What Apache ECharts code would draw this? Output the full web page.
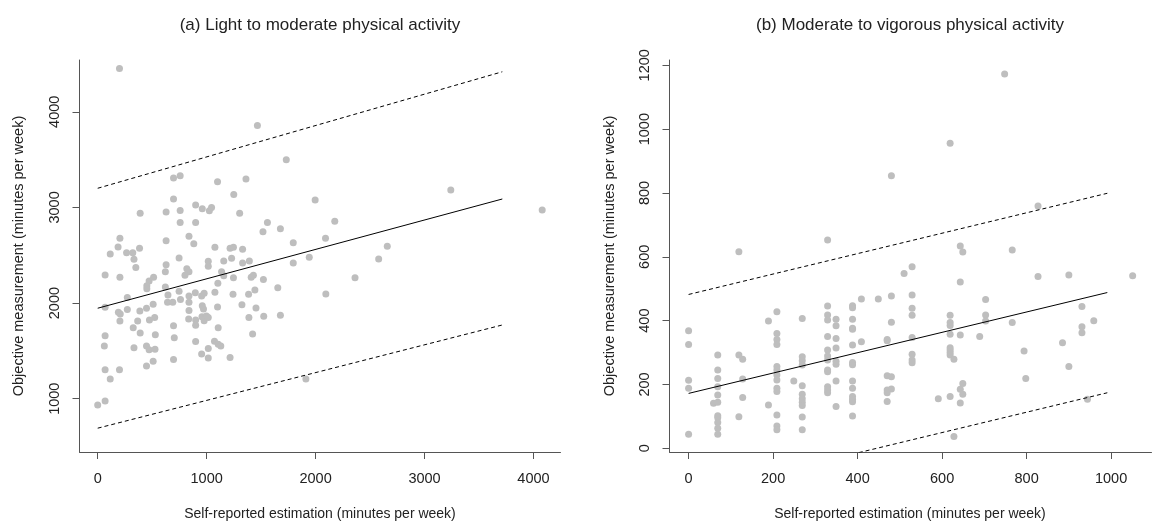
<!DOCTYPE html>
<html>
<head>
<meta charset="utf-8">
<script src="https://cdn.jsdelivr.net/npm/echarts@6/dist/echarts.min.js"></script>
<style>
html,body{margin:0;padding:0;background:#fff;}
#c{width:1153px;height:522px;}
</style>
</head>
<body>
<div id="c"></div>
<script>
// ---------- Data ----------
const titleA = '(a) Light to moderate physical activity';
const titleB = '(b) Moderate to vigorous physical activity';
const xName = 'Self-reported estimation (minutes per week)';
const yName = 'Objective measurement (minutes per week)';

const ticksAX = [0, 1000, 2000, 3000, 4000];
const ticksAY = [1000, 2000, 3000, 4000];
const ticksBX = [0, 200, 400, 600, 800, 1000];
const ticksBY = [0, 200, 400, 600, 800, 1000, 1200];

// Panel (a) points: self-reported (x), objective (y)
const lightX = [200,1466,1731,696,757,1100,1361,3241,1249,696,1996,4080,390,628,757,899,960,1025,1045,1303,
  757,899,1558,2176,1517,1677,838,628,882,1795,2091,204,187,115,265,322,333,384,350,1076,
  1215,1246,1330,747,2658,1229,1157,1015,1015,1392,1330,1942,2579,1795,628,68,204,818,838,801,
  621,1137,1157,1246,1409,1429,2362,513,472,451,451,1103,1521,1653,621,1443,1076,896,645,747,
  760,838,954,977,1242,1385,2094,272,641,689,838,509,1324,68,272,387,448,838,960,971,
  1100,1453,190,207,367,475,523,204,835,899,977,957,998,1015,899,1388,1524,1677,326,390,
  696,529,68,1106,1422,703,899,1072,1106,1130,61,333,448,472,526,954,1015,1015,1215,696,
  509,448,68,200,115,1911,0,68];
const lightY = [4453,3857,3498,3307,3331,3268,3296,3181,3135,3087,3077,2973,2940,2951,2967,3025,2986,2966,3000,2938,
  2843,2843,2843,2854,2746,2776,2699,2652,2621,2630,2678,2678,2586,2512,2527,2527,2457,2572,2373,2583,
  2572,2583,2562,2471,2593,2468,2440,2436,2384,2440,2419,2478,2461,2419,2401,2294,2269,2360,2328,2290,
  2328,2328,2286,2265,2269,2290,2265,2269,2231,2182,2149,2208,2247,2160,2167,2137,2112,2109,2085,2123,
  2036,2074,2074,2102,2091,2091,2095,2057,2008,2008,2008,1987,1983,1956,1933,1917,1945,1923,1971,1937,
  1959,1948,1903,1885,1813,1823,1848,1813,1834,1823,1816,1858,1865,1848,1767,1848,1862,1872,1743,1687,
  1764,1670,1659,1743,1677,1638,1597,1600,1569,1551,1551,1534,1551,1513,1517,1468,1524,1426,1430,1409,
  1391,1343,1304,1304,1207,1207,935,977];

// Panel (a) regression line and limits (endpoints)
const lightFitX = [0, 3714];
const lightFitY = [1946, 3088];
const lightUpperY = [3200, 4418];
const lightLowerY = [692, 1771];

// Panel (b) points
const vigX = [0,0,0,0,0,59,69,69,69,69,69,69,69,69,69,69,69,119,119,119,128,128,128,189,189,
  209,209,209,209,209,209,209,209,209,209,209,209,209,249,269,269,269,269,269,269,269,269,269,269,269,
  329,329,329,329,329,329,329,329,329,329,329,329,329,349,349,349,349,349,349,349,349,
  388,388,388,388,388,388,388,388,388,388,388,388,388,388,409,409,449,470,470,470,470,470,470,
  480,480,480,480,480,510,529,529,529,529,529,529,529,529,591,619,619,619,619,619,619,619,619,619,619,
  628,628,643,643,643,643,643,649,649,649,689,703,703,703,766,766,794,798,827,827,885,900,900,
  931,931,931,944,959,1051,748];
const vigY = [368,325,213,188,44,141,292,245,219,193,167,144,102,96,81,63,44,616,292,99,279,217,159,399,136,
  428,360,341,325,256,245,230,214,188,178,104,70,58,211,407,287,274,261,196,169,155,144,134,98,58,
  653,446,418,402,350,308,289,277,245,240,193,183,174,404,384,344,314,273,263,211,131,
  447,440,404,376,373,324,269,262,211,188,162,154,146,101,468,334,468,341,337,227,183,174,147,
  854,477,395,224,186,548,569,480,439,417,347,295,277,268,155,956,417,394,385,357,315,308,300,292,162,
  37,279,634,521,355,185,142,615,203,169,350,466,418,399,621,394,305,219,759,538,331,543,256,
  444,381,362,154,400,541,1173];

// Panel (b) regression line and limits (endpoints)
const vigFitX = [0, 991];
const vigFitY = [172, 488];
const vigUpperY = [482, 799];
const vigLowerY = [-142, 174];

// ---------- Build ----------
function pairs(xs, ys) { return xs.map((x, i) => [x, ys[i]]); }

const FONT = 'Liberation Sans, Arial, sans-serif';
const TXT = '#222';
const AXC = '#555';
const plain = v => String(v);

function xAxisCfg(idx, min, max, ticks) {
  return {
    type: 'value', gridIndex: idx, min: min, max: max,
    axisLine: { show: true, onZero: false, lineStyle: { color: AXC, width: 1 } },
    axisTick: { show: true, length: 7, customValues: ticks, lineStyle: { color: AXC } },
    axisLabel: { customValues: ticks, formatter: plain, margin: 19, fontSize: 14.5, color: TXT, fontFamily: FONT },
    splitLine: { show: false }
  };
}
function yAxisCfg(idx, min, max, ticks) {
  return {
    type: 'value', gridIndex: idx, min: min, max: max,
    axisLine: { show: true, onZero: false, lineStyle: { color: AXC, width: 1 } },
    axisTick: { show: true, length: 7, customValues: ticks, lineStyle: { color: AXC } },
    axisLabel: { customValues: ticks, formatter: plain, rotate: 90, margin: 17, fontSize: 14.5, color: TXT, fontFamily: FONT },
    splitLine: { show: false }
  };
}
function lineSeries(idx, xs, ys, dashed) {
  return {
    type: 'line', xAxisIndex: idx, yAxisIndex: idx, data: pairs(xs, ys),
    showSymbol: false, symbol: 'none', clip: true, silent: true, z: 5,
    lineStyle: { color: '#000', width: 1, type: dashed ? [4, 3] : 'solid' }
  };
}
function scatterSeries(idx, xs, ys) {
  return {
    type: 'scatter', xAxisIndex: idx, yAxisIndex: idx, data: pairs(xs, ys),
    symbol: 'circle', symbolSize: 7, itemStyle: { color: '#BEBEBE', opacity: 1 }, z: 2, silent: true
  };
}
function txt(text, x, y, size, rot) {
  return {
    type: 'text', x: x, y: y, rotation: rot || 0,
    style: { text: text, font: size + 'px ' + FONT, fill: TXT, textAlign: 'center', textVerticalAlign: 'middle' }
  };
}

const chart = echarts.init(document.getElementById('c'), null, { renderer: 'canvas' });
chart.setOption({
  animation: false,
  backgroundColor: '#fff',
  grid: [
    { left: 79.5, top: 60, width: 481, height: 392 },
    { left: 669.5, top: 60, width: 482, height: 392 }
  ],
  xAxis: [
    xAxisCfg(0, -167, 4248, ticksAX),
    xAxisCfg(1, -45.2, 1095.6, ticksBX)
  ],
  yAxis: [
    yAxisCfg(0, 443, 4541, ticksAY),
    yAxisCfg(1, -11.6, 1216.6, ticksBY)
  ],
  series: [
    scatterSeries(0, lightX, lightY),
    lineSeries(0, lightFitX, lightFitY, false),
    lineSeries(0, lightFitX, lightUpperY, true),
    lineSeries(0, lightFitX, lightLowerY, true),
    scatterSeries(1, vigX, vigY),
    lineSeries(1, vigFitX, vigFitY, false),
    lineSeries(1, vigFitX, vigUpperY, true),
    lineSeries(1, vigFitX, vigLowerY, true)
  ],
  graphic: [
    txt(titleA, 320, 25, 17),
    txt(titleB, 910, 25, 17),
    txt(xName, 320, 514, 14),
    txt(xName, 910, 514, 14),
    txt(yName, 19, 256, 14.5, Math.PI / 2),
    txt(yName, 610, 256, 14.5, Math.PI / 2)
  ]
});
</script>
</body>
</html>
